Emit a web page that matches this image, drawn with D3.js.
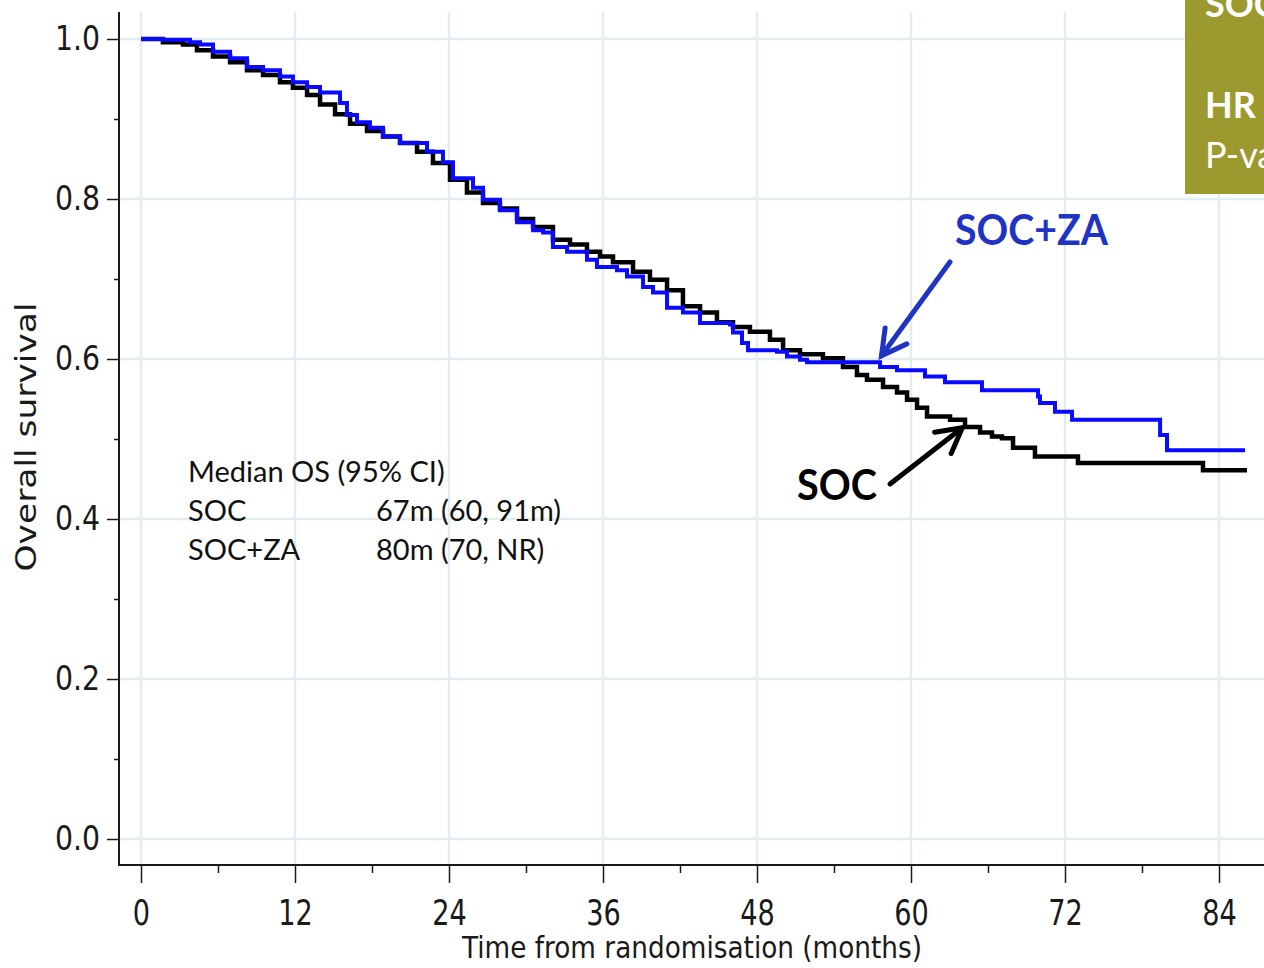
<!DOCTYPE html>
<html>
<head>
<meta charset="utf-8">
<script src="https://cdn.jsdelivr.net/npm/d3@7"></script>
<style>
  body { margin: 0; background: #fff; }
  svg { display: block; }
</style>
</head>
<body>
<div id="chart"></div>
<script>
// Kaplan-Meier data (months, survival)
const socMonths = [0,1.71,3.27,4.36,5.61,6.94,8.26,9.51,10.83,11.84,12.94,13.95,15.12,16.29,17.61,18.86,20.18,21.51,22.75,24.08,25.40,26.65,27.97,29.30,30.55,32.10,33.43,34.75,35.77,36.78,38.34,39.66,40.99,42.23,43.56,44.88,46.13,47.45,49.01,50.03,51.35,53.14,54.70,55.79,56.57,57.82,58.91,59.69,60.47,61.25,63.04,64.21,65.38,66.31,67.09,67.95,69.66,73.01,82.75,86.18];
const socSurv = [1.000,0.996,0.993,0.986,0.978,0.971,0.961,0.955,0.946,0.939,0.930,0.918,0.906,0.894,0.885,0.878,0.870,0.859,0.845,0.824,0.808,0.795,0.788,0.775,0.765,0.749,0.743,0.734,0.728,0.721,0.709,0.699,0.686,0.666,0.658,0.646,0.640,0.634,0.624,0.611,0.606,0.601,0.590,0.580,0.574,0.565,0.558,0.549,0.539,0.528,0.524,0.515,0.508,0.503,0.501,0.489,0.478,0.470,0.461,0.461];

const zaMonths = [0,1.71,3.82,4.60,5.61,6.94,8.26,9.51,10.83,11.84,12.94,13.95,15.51,16.05,16.83,17.84,18.86,20.18,22.29,23.53,24.31,25.87,26.65,27.97,29.30,30.55,31.33,32.10,33.20,34.75,35.53,37.09,37.87,39.12,39.90,40.99,42.23,43.56,45.89,46.13,46.83,47.30,49.56,50.34,51.35,51.90,57.59,58.91,61.09,62.65,65.53,69.90,70.05,71.22,72.55,79.41,79.95,86.03];
const zaSurv = [1.000,0.999,0.996,0.993,0.984,0.976,0.965,0.961,0.953,0.946,0.940,0.933,0.920,0.905,0.896,0.889,0.878,0.870,0.859,0.846,0.826,0.814,0.799,0.786,0.771,0.761,0.758,0.740,0.734,0.724,0.715,0.711,0.703,0.690,0.683,0.664,0.658,0.645,0.643,0.633,0.620,0.611,0.609,0.603,0.599,0.596,0.590,0.586,0.578,0.571,0.561,0.553,0.545,0.534,0.524,0.505,0.486,0.486];

// Axis ticks
const xTicks = [0, 12, 24, 36, 48, 60, 72, 84];
const xMinor = [6, 18, 30, 42, 54, 66, 78];
const yTicks = [0, 0.2, 0.4, 0.6, 0.8, 1.0];
const yMinor = [0.1, 0.3, 0.5, 0.7, 0.9];

// Median table
const medianTitle = 'Median OS (95% CI)';
const medianArms = ['SOC', 'SOC+ZA'];
const medianValues = ['67m (60, 91m)', '80m (70, NR)'];

const width = 1264, height = 968;
const frame = { left: 119, right: 1264, top: 12, bottom: 865 };

const svg = d3.select('#chart').append('svg')
  .attr('width', width)
  .attr('height', height);

const x = d3.scaleLinear().domain([0, 84]).range([141, 1219]);
const y = d3.scaleLinear().domain([0, 1]).range([839, 39]);

// Сетка
const gridColor = '#e3edf1';
svg.append('g').selectAll('line')
  .data(xTicks).enter().append('line')
  .attr('x1', d => x(d)).attr('x2', d => x(d))
  .attr('y1', frame.top).attr('y2', frame.bottom)
  .attr('stroke', gridColor).attr('stroke-width', 2.5);
svg.append('g').selectAll('line')
  .data(yTicks).enter().append('line')
  .attr('y1', d => y(d)).attr('y2', d => y(d))
  .attr('x1', frame.left).attr('x2', frame.right)
  .attr('stroke', gridColor).attr('stroke-width', 2.5);

// Оси
const axisColor = '#1a1a1a';
const tickFont = '"DejaVu Sans", sans-serif';
const squeeze = 0.8;

let xAxis = svg.append('g')
  .attr('transform', `translate(0,${frame.bottom})`)
  .call(d3.axisBottom(x).tickValues(xTicks).tickSize(18).tickPadding(17).tickSizeOuter(0));
xAxis.select('.domain').remove();
xAxis.selectAll('line').attr('stroke', axisColor).attr('stroke-width', 1.5);
xAxis.selectAll('text')
  .attr('fill', axisColor)
  .style('font-family', tickFont)
  .style('font-size', '35px')
  .attr('transform', `scale(${squeeze * 0.97},1)`);

let xAxisMinor = svg.append('g')
  .attr('transform', `translate(0,${frame.bottom})`)
  .call(d3.axisBottom(x).tickValues(xMinor).tickSize(8).tickFormat('').tickSizeOuter(0));
xAxisMinor.select('.domain').remove();
xAxisMinor.selectAll('line').attr('stroke', axisColor).attr('stroke-width', 1.5);

let yAxis = svg.append('g')
  .attr('transform', `translate(${frame.left},0)`)
  .call(d3.axisLeft(y).tickValues(yTicks).tickSize(12).tickPadding(7)
    .tickFormat(d3.format('.1f')).tickSizeOuter(0));
yAxis.select('.domain').remove();
yAxis.selectAll('line').attr('stroke', axisColor).attr('stroke-width', 1.5);
yAxis.selectAll('text')
  .attr('fill', axisColor)
  .style('font-family', tickFont)
  .style('font-size', '33px')
  .attr('x', -19 / 0.86)
  .attr('transform', 'scale(0.86,1)');

let yAxisMinor = svg.append('g')
  .attr('transform', `translate(${frame.left},0)`)
  .call(d3.axisLeft(y).tickValues(yMinor).tickSize(5).tickFormat('').tickSizeOuter(0));
yAxisMinor.select('.domain').remove();
yAxisMinor.selectAll('line').attr('stroke', axisColor).attr('stroke-width', 1.5);

// Рамка осей
svg.append('path')
  .attr('d', `M${frame.left},${frame.top}V${frame.bottom}H${frame.right}`)
  .attr('fill', 'none')
  .attr('stroke', axisColor)
  .attr('stroke-width', 2);

// Подписи осей
svg.append('text')
  .attr('x', 692).attr('y', 958)
  .attr('text-anchor', 'middle')
  .attr('textLength', 460).attr('lengthAdjust', 'spacingAndGlyphs')
  .attr('fill', axisColor)
  .style('font-family', tickFont).style('font-size', '30px')
  .text('Time from randomisation (months)');

svg.append('text')
  .attr('transform', 'translate(36,437) rotate(-90)')
  .attr('text-anchor', 'middle')
  .attr('textLength', 269).attr('lengthAdjust', 'spacingAndGlyphs')
  .attr('fill', axisColor)
  .style('font-family', tickFont).style('font-size', '28px')
  .text('Overall survival');

// Кривые
const soc = socMonths.map((m, i) => ({ t: m, s: socSurv[i] }));
const za = zaMonths.map((m, i) => ({ t: m, s: zaSurv[i] }));

const line = d3.line()
  .x(d => x(d.t))
  .y(d => y(d.s))
  .curve(d3.curveStepAfter);

svg.append('path')
  .datum(soc)
  .attr('fill', 'none')
  .attr('stroke', '#000')
  .attr('stroke-width', 4.5)
  .attr('d', line);

svg.append('path')
  .datum(za)
  .attr('fill', 'none')
  .attr('stroke', '#0a0aff')
  .attr('stroke-width', 4)
  .attr('d', line);

// Таблица медиан
const labelFont = 'Lato, "Open Sans", sans-serif';
const table = svg.append('g').style('font-family', labelFont).style('font-size', '29px').attr('fill', '#111');
table.append('text').attr('x', 188).attr('y', 482).text(medianTitle);
medianArms.forEach((arm, i) => {
  table.append('text').attr('x', 188).attr('y', 521 + i * 38.5).text(arm);
  table.append('text').attr('x', 376).attr('y', 521 + i * 38.5).text(medianValues[i]);
});

// Стрелки-аннотации
function arrow(color, from, to) {
  const g = svg.append('g').attr('stroke', color).attr('stroke-width', 5)
    .attr('fill', 'none').attr('stroke-linecap', 'round');
  g.append('line').attr('x1', from[0]).attr('y1', from[1]).attr('x2', to[0]).attr('y2', to[1]);
  const ang = Math.atan2(from[1] - to[1], from[0] - to[0]);
  const len = 28, spread = 0.5;
  g.append('path').attr('d',
    `M${to[0] + len * Math.cos(ang + spread)},${to[1] + len * Math.sin(ang + spread)}` +
    `L${to[0]},${to[1]}` +
    `L${to[0] + len * Math.cos(ang - spread)},${to[1] + len * Math.sin(ang - spread)}`)
    .attr('stroke-linejoin', 'miter');
}

const zaTip = [x(57.7), y(0.604)];
const socTip = [x(64.0), y(0.514)];
arrow('#1f33c4', [950, 262], zaTip);
arrow('#000', [890, 484], socTip);

svg.append('text')
  .attr('x', 955).attr('y', 245)
  .attr('textLength', 153).attr('lengthAdjust', 'spacingAndGlyphs')
  .attr('fill', '#1f33c4')
  .style('font-family', labelFont).style('font-weight', 'bold').style('font-size', '42px')
  .text('SOC+ZA');
svg.append('text')
  .attr('x', 797).attr('y', 500)
  .attr('textLength', 80).attr('lengthAdjust', 'spacingAndGlyphs')
  .attr('fill', '#000')
  .style('font-family', labelFont).style('font-weight', 'bold').style('font-size', '42px')
  .text('SOC');

// Плашка справа сверху
svg.append('rect')
  .attr('x', 1185).attr('y', 0).attr('width', 79).attr('height', 194)
  .attr('fill', '#9c9a2e');
const box = svg.append('g').attr('fill', '#fff').style('font-family', labelFont).style('font-size', '36px');
box.append('text').attr('x', 1205).attr('y', 17).style('font-weight', 'bold').text('SOC');
box.append('text').attr('x', 1205).attr('y', 118).style('font-weight', 'bold').text('HR');
box.append('text').attr('x', 1205).attr('y', 168).text('P-value');
</script>
</body>
</html>
